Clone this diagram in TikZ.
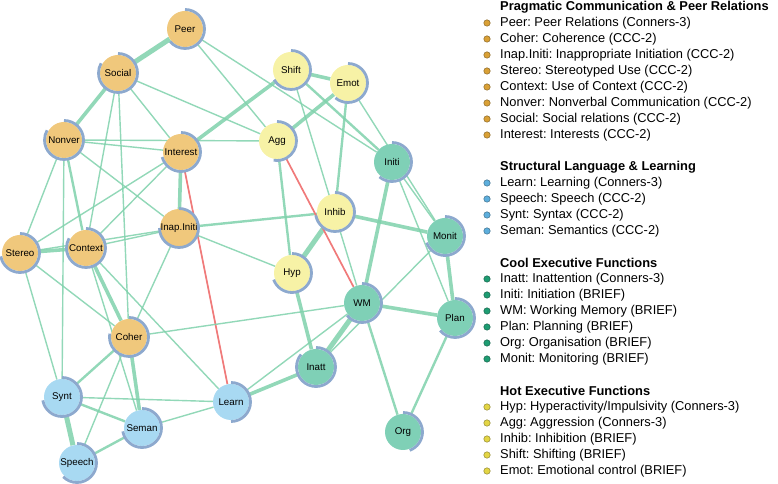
\documentclass[tikz,border=0pt]{standalone}
\usepackage{fontspec}
\setmainfont{Liberation Sans}
\usetikzlibrary{backgrounds}
\definecolor{o1}{HTML}{F0C87C}
\definecolor{b1}{HTML}{A8D9F2}
\definecolor{g1}{HTML}{7FD0B6}
\definecolor{y1}{HTML}{F7F2A6}
\definecolor{o2}{HTML}{D9A036}
\definecolor{b2}{HTML}{5DAEDC}
\definecolor{g2}{HTML}{1E9C72}
\definecolor{y2}{HTML}{E3D545}
\definecolor{rg}{HTML}{8DA9CE}
\definecolor{eg}{HTML}{7FD1AB}
\definecolor{er}{HTML}{F07A7A}
% partial ring round a node, clockwise from the top
\newcommand{\pred}[2]{\draw[ring] (#1.center) ++(90:19.5bp) arc[start angle=90,end angle={90-#2},radius=19.5bp];}
\frenchspacing

\begin{document}
\begin{tikzpicture}[x=1bp,y=1bp,
  var/.style={circle,minimum size=36bp,inner sep=0pt,font=\fontsize{9.8}{10}\selectfont},
  ring/.style={draw=rg,line width=2.8bp},
  e1/.style={draw=eg,draw opacity=0.85,line width=1.4bp},
  e2/.style={draw=eg,draw opacity=0.85,line width=2.4bp},
  e3/.style={draw=eg,draw opacity=0.85,line width=3.6bp},
  e4/.style={draw=eg,draw opacity=0.85,line width=5bp},
  neg/.style={draw=er,line width=1.7bp},
  key/.style={anchor=west,inner sep=0pt,font=\fontsize{12.9}{14}\selectfont},
  head/.style={key,font=\fontsize{12.9}{14}\selectfont\bfseries},
  keydot/.style={circle,inner sep=0pt,minimum size=6.5bp,draw=#1!55!black,fill=#1}]
  \useasboundingbox (0,0) rectangle (778,484);

  % pragmatic communication
  \node[var,fill=o1] (peer) at (185,455) {Peer};
  \node[var,fill=o1] (social) at (118,411) {Social};
  \node[var,fill=o1] (nonver) at (64,344) {Nonver};
  \node[var,fill=o1] (interest) at (181,332) {Interest};
  \node[var,fill=o1] (inap) at (179,256) {Inap.Initi};
  \node[var,fill=o1] (stereo) at (20,231) {Stereo};
  \node[var,fill=o1] (context) at (86,236) {Context};
  \node[var,fill=o1] (coher) at (129,147) {Coher};
  % structural language
  \node[var,fill=b1] (synt) at (62,87) {Synt};
  \node[var,fill=b1] (seman) at (142,56) {Seman};
  \node[var,fill=b1] (speech) at (77,21) {Speech};
  \node[var,fill=b1] (learn) at (231,82) {Learn};
  % hot EF
  \node[var,fill=y1] (shift) at (291,414) {Shift};
  \node[var,fill=y1] (emot) at (348,401) {Emot};
  \node[var,fill=y1] (agg) at (277,343) {Agg};
  \node[var,fill=y1] (inhib) at (335,272) {Inhib};
  \node[var,fill=y1] (hyp) at (292,211) {Hyp};
  % cool EF
  \node[var,fill=g1] (initi) at (392,322) {Initi};
  \node[var,fill=g1] (monit) at (445,248) {Monit};
  \node[var,fill=g1] (wm) at (362,181) {WM};
  \node[var,fill=g1] (inatt) at (316,117) {Inatt};
  \node[var,fill=g1] (plan) at (455,166) {Plan};
  \node[var,fill=g1] (org) at (403,52) {Org};

  \begin{scope}[on background layer]
    \draw[e4] (peer) -- (social);
    \draw[e1] (peer) -- (agg);
    \draw[e1] (peer) -- (initi);
    \draw[e3] (social) -- (nonver);
    \draw[e1] (social) -- (interest);
    \draw[e1] (social) -- (agg);
    \draw[e1] (social) -- (context);
    \draw[e1] (social) -- (coher);
    \draw[e1] (nonver) -- (interest);
    \draw[e1] (nonver) -- (agg);
    \draw[e1] (nonver) -- (inap);
    \draw[e1] (nonver) -- (stereo);
    \draw[e1] (nonver) -- (synt);
    \draw[e2] (nonver) -- (context);
    \draw[e3] (interest) -- (inap);
    \draw[neg] (interest) -- (learn);
    \draw[e1] (interest) -- (stereo);
    \draw[e1] (interest) -- (context);
    \draw[e3] (interest) -- (shift);
    \draw[e2] (inap) -- (inhib);
    \draw[e1] (inap) -- (hyp);
    \draw[e1] (inap) -- (context);
    \draw[e1] (inap) -- (stereo);
    \draw[e1] (inap) -- (coher);
    \draw[e3] (stereo) -- (context);
    \draw[e1] (stereo) -- (coher);
    \draw[e1] (stereo) -- (synt);
    \draw[e3] (context) -- (coher);
    \draw[e1] (context) -- (seman);
    \draw[e1] (context) -- (learn);
    \draw[e1] (coher) -- (wm);
    \draw[e2] (coher) -- (synt);
    \draw[e1] (coher) -- (speech);
    \draw[e3] (coher) -- (seman);
    \draw[e4] (synt) -- (speech);
    \draw[e2] (synt) -- (seman);
    \draw[e1] (synt) -- (learn);
    \draw[e2] (seman) -- (speech);
    \draw[e1] (seman) -- (learn);
    \draw[e3] (learn) -- (inatt);
    \draw[e1] (learn) -- (wm);
    \draw[e2] (hyp) -- (agg);
    \draw[e4] (hyp) -- (inhib);
    \draw[e3] (hyp) -- (inatt);
    \draw[e3] (agg) -- (emot);
    \draw[neg] (agg) -- (wm);
    \draw[e3] (shift) -- (emot);
    \draw[e2] (shift) -- (initi);
    \draw[e1] (shift) -- (wm);
    \draw[e2] (emot) -- (inhib);
    \draw[e1] (emot) -- (monit);
    \draw[e3] (initi) -- (wm);
    \draw[e1] (initi) -- (monit);
    \draw[e1] (initi) -- (plan);
    \draw[e3] (inhib) -- (monit);
    \draw[e3] (monit) -- (plan);
    \draw[e1] (monit) -- (inatt);
    \draw[e3] (wm) -- (plan);
    \draw[e2] (wm) -- (org);
    \draw[e4] (wm) -- (inatt);
    \draw[e2] (plan) -- (org);
  \end{scope}

  \pred{peer}{230} \pred{social}{300} \pred{nonver}{300} \pred{interest}{255}
  \pred{inap}{270} \pred{stereo}{260} \pred{context}{300} \pred{coher}{280}
  \pred{synt}{260} \pred{seman}{260} \pred{speech}{225} \pred{learn}{180}
  \pred{shift}{240} \pred{emot}{220} \pred{agg}{190} \pred{inhib}{260}
  \pred{hyp}{250} \pred{initi}{220} \pred{monit}{250} \pred{wm}{230}
  \pred{inatt}{310} \pred{plan}{230} \pred{org}{160}

  % legend
  \node[head] (hprag) at (500,477) {Pragmatic Communication \& Peer Relations};
  \foreach \t [count=\i] in {{Peer: Peer Relations (Conners-3)},{Coher: Coherence (CCC-2)},
      {Inap.Initi: Inappropriate Initiation (CCC-2)},{Stereo: Stereotyped Use (CCC-2)},
      {Context: Use of Context (CCC-2)},{Nonver: Nonverbal Communication (CCC-2)},
      {Social: Social relations (CCC-2)},{Interest: Interests (CCC-2)}}{
    \node[keydot=o2] (dp\i) at (487,{477-16*\i}) {};
    \node[key] (kp\i) at (500,{477-16*\i}) {\t};
  }
  \node[head] (hstruct) at (500,317) {Structural Language \& Learning};
  \foreach \t [count=\i] in {{Learn: Learning (Conners-3)},{Speech: Speech (CCC-2)},
      {Synt: Syntax (CCC-2)},{Seman: Semantics (CCC-2)}}{
    \node[keydot=b2] (ds\i) at (487,{317-16*\i}) {};
    \node[key] (ks\i) at (500,{317-16*\i}) {\t};
  }
  \node[head] (hcool) at (500,221) {Cool Executive Functions};
  \foreach \t [count=\i] in {{Inatt: Inattention (Conners-3)},{Initi: Initiation (BRIEF)},
      {WM: Working Memory (BRIEF)},{Plan: Planning (BRIEF)},
      {Org: Organisation (BRIEF)},{Monit: Monitoring (BRIEF)}}{
    \node[keydot=g2] (dc\i) at (487,{221-16*\i}) {};
    \node[key] (kc\i) at (500,{221-16*\i}) {\t};
  }
  \node[head] (hhot) at (500,93) {Hot Executive Functions};
  \foreach \t [count=\i] in {{Hyp: Hyperactivity/Impulsivity (Conners-3)},
      {Agg: Aggression (Conners-3)},{Inhib: Inhibition (BRIEF)},
      {Shift: Shifting (BRIEF)},{Emot: Emotional control (BRIEF)}}{
    \node[keydot=y2] (dh\i) at (487,{93-16*\i}) {};
    \node[key] (kh\i) at (500,{93-16*\i}) {\t};
  }
\end{tikzpicture}
\end{document}
